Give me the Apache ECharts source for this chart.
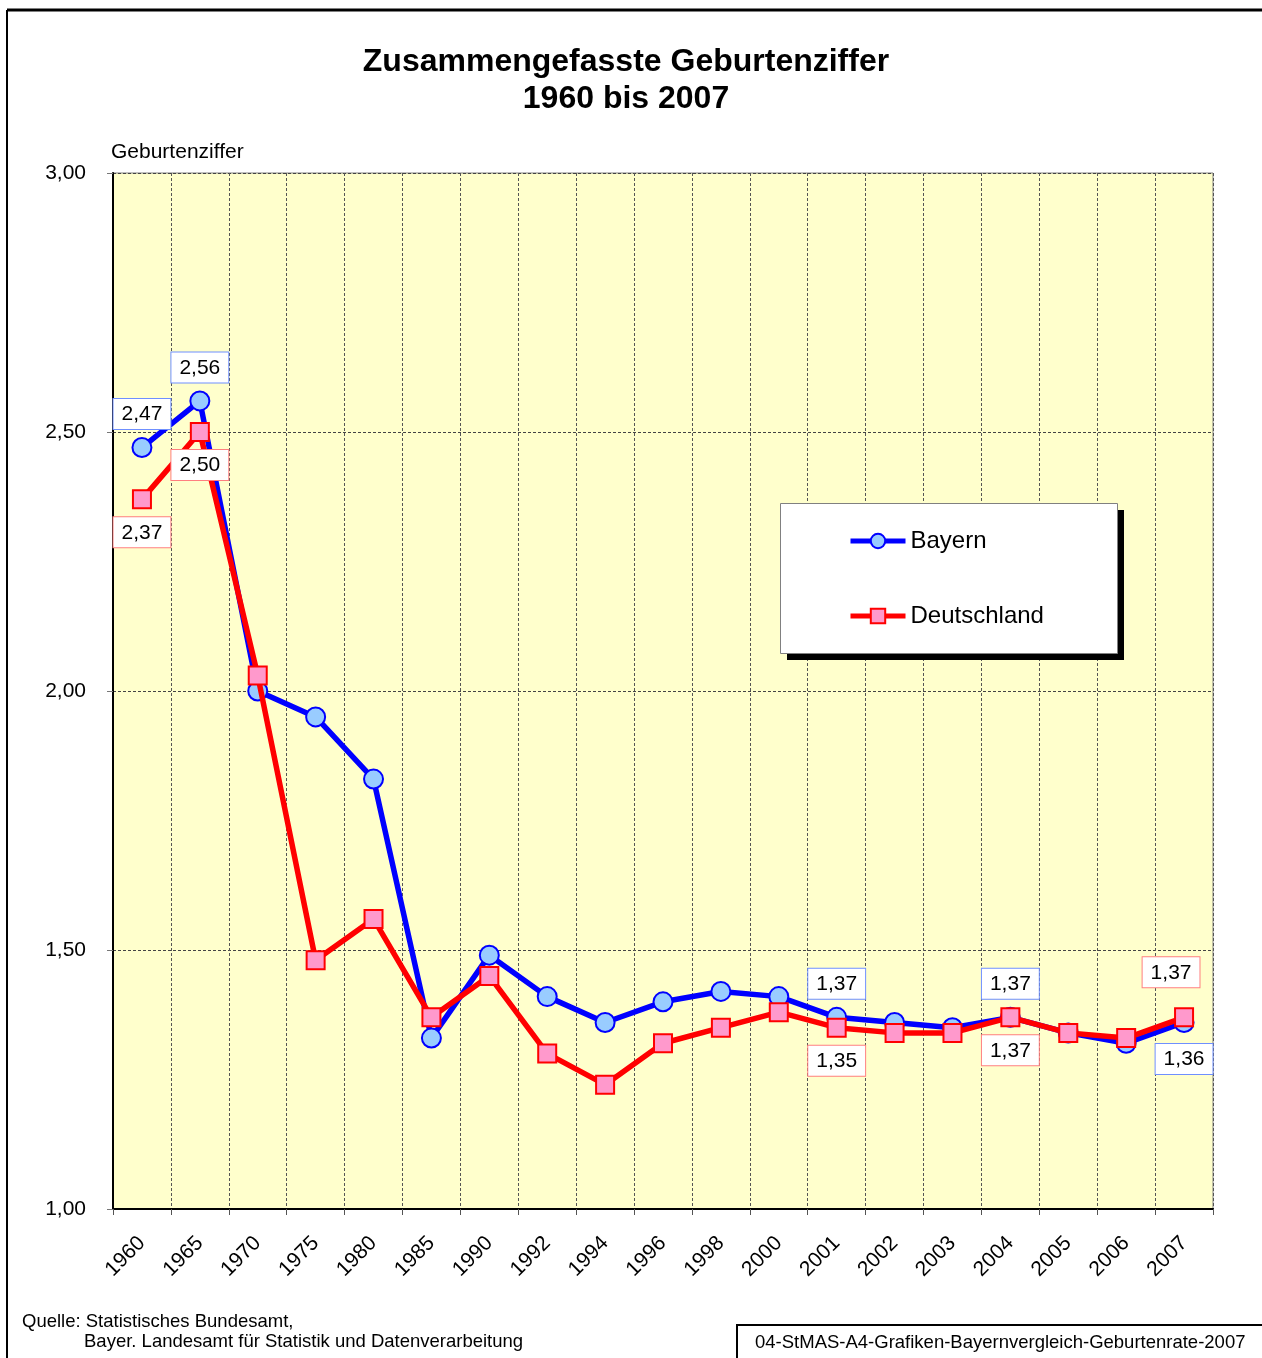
<!DOCTYPE html>
<html>
<head>
<meta charset="utf-8">
<script src="https://cdn.jsdelivr.net/npm/echarts@6/dist/echarts.min.js"></script>
<style>
    html, body {margin: 0; padding: 0; background: #fff;}
    #chart {width: 1262px; height: 1358px;}
</style>
</head>
<body>
<div id="chart"></div>
<script>
// Zusammengefasste Geburtenziffer 1960 bis 2007
const years = ['1960', '1965', '1970', '1975', '1980', '1985', '1990', '1992', '1994', '1996',
    '1998', '2000', '2001', '2002', '2003', '2004', '2005', '2006', '2007'];
const bayern = [2.47, 2.56, 2.00, 1.95, 1.83, 1.33, 1.49, 1.41, 1.36, 1.40,
    1.42, 1.41, 1.37, 1.36, 1.35, 1.37, 1.34, 1.32, 1.36];
const deutschland = [2.37, 2.50, 2.03, 1.48, 1.56, 1.37, 1.45, 1.30, 1.24, 1.32,
    1.35, 1.38, 1.35, 1.34, 1.34, 1.37, 1.34, 1.33, 1.37];
// which points carry a value label
const bayernLabelled = [0, 1, 12, 15, 18];
const deutschlandLabelled = [0, 1, 12, 15, 18];

const FONT = 'Liberation Sans, Arial, sans-serif';
const fmt = v => v.toFixed(2).replace('.', ',');

const boxLabel = (border, position, extra) => Object.assign({
    show: true,
    position: position,
    distance: 8,
    formatter: p => fmt(p.value),
    fontFamily: FONT,
    fontSize: 21,
    color: '#000',
    backgroundColor: '#fff',
    borderColor: border,
    borderWidth: 1,
    padding: [5, 8, 4, 8]
}, extra || {});

const bayernData = bayern.map((v, i) => {
    if (bayernLabelled.indexOf(i) < 0) return v;
    const below = i === years.length - 1;
    return {value: v, label: boxLabel('#6f8fff', below ? 'bottom' : 'top', below ? {distance: 11} : {})};
});
const deutschlandData = deutschland.map((v, i) => {
    if (deutschlandLabelled.indexOf(i) < 0) return v;
    const last = i === years.length - 1;
    return {value: v, label: boxLabel('#ff7f7f', last ? 'top' : 'bottom', last ? {distance: 20, offset: [-13, 0]} : {})};
});

const chart = echarts.init(document.getElementById('chart'));
chart.setOption({
    animation: false,
    backgroundColor: '#fff',
    textStyle: {fontFamily: FONT},
    grid: {
        left: 113, right: 49, top: 173, bottom: 149,
        show: true, backgroundColor: '#ffffcc', borderColor: '#808080', borderWidth: 1
    },
    legend: {
        orient: 'vertical',
        left: 778, top: 503,
        padding: [26, 70, 26, 70],
        itemGap: 51,
        itemWidth: 55, itemHeight: 18,
        z: 10,
        textStyle: {fontFamily: FONT, fontSize: 24, color: '#000'},
        data: [
            {name: 'Bayern', lineStyle: {width: 5}},
            {name: 'Deutschland', lineStyle: {width: 5}}
        ]
    },
    xAxis: {
        type: 'category',
        data: years,
        boundaryGap: true,
        axisLine: {lineStyle: {color: '#000', width: 2}},
        axisTick: {show: true, length: 6, lineStyle: {color: '#555'}},
        axisLabel: {rotate: 45, fontSize: 21, color: '#000', margin: 31, fontFamily: FONT},
        splitLine: {show: true, lineStyle: {color: '#555', type: [3, 2], width: 1}}
    },
    yAxis: {
        type: 'value',
        min: 1, max: 3, interval: 0.5,
        axisLine: {show: true, lineStyle: {color: '#000', width: 2}},
        axisTick: {show: true, length: 6, lineStyle: {color: '#777'}},
        axisLabel: {formatter: v => fmt(v), fontSize: 21, color: '#000', margin: 27, fontFamily: FONT},
        splitLine: {show: true, lineStyle: {color: '#444', type: [3, 2], width: 1}}
    },
    series: [{
        name: 'Bayern',
        type: 'line',
        data: bayernData,
        symbol: 'circle',
        symbolSize: 19,
        lineStyle: {color: '#0000ff', width: 5.5},
        itemStyle: {color: '#99ccff', borderColor: '#0000ff', borderWidth: 2},
        z: 2
    }, {
        name: 'Deutschland',
        type: 'line',
        data: deutschlandData,
        symbol: 'rect',
        symbolSize: 18,
        lineStyle: {color: '#ff0000', width: 5.5},
        itemStyle: {color: '#ff99cc', borderColor: '#ff0000', borderWidth: 2},
        z: 3
    }],
    graphic: [
        // outer frame
        {type: 'line', shape: {x1: 7, y1: 10, x2: 1262, y2: 10}, style: {stroke: '#000', lineWidth: 3}},
        {type: 'line', shape: {x1: 7, y1: 10, x2: 7, y2: 1358}, style: {stroke: '#000', lineWidth: 2}},
        // title
        {
            type: 'text', x: 626, y: 44,
            style: {
                text: 'Zusammengefasste Geburtenziffer\n1960 bis 2007',
                font: 'bold 32px ' + FONT, fill: '#000', align: 'center', lineHeight: 37
            }
        },
        {type: 'text', x: 111, y: 152, style: {text: 'Geburtenziffer', font: '21px ' + FONT, fill: '#000', verticalAlign: 'middle'}},
        // legend box with hard shadow
        {type: 'rect', z: 8, shape: {x: 787, y: 510, width: 337, height: 150}, style: {fill: '#000'}},
        {type: 'rect', z: 9, shape: {x: 780.5, y: 503.5, width: 337, height: 150}, style: {fill: '#fff', stroke: '#808080', lineWidth: 1}},
        // source
        {type: 'text', x: 22, y: 1322, style: {text: 'Quelle: Statistisches Bundesamt,', font: '18.5px ' + FONT, fill: '#000', verticalAlign: 'middle'}},
        {type: 'text', x: 84, y: 1342, style: {text: 'Bayer. Landesamt für Statistik und Datenverarbeitung', font: '18.5px ' + FONT, fill: '#000', verticalAlign: 'middle'}},
        {type: 'rect', shape: {x: 737, y: 1325, width: 530, height: 40}, style: {fill: '#fff', stroke: '#000', lineWidth: 2}},
        {type: 'text', x: 755, y: 1343, style: {text: '04-StMAS-A4-Grafiken-Bayernvergleich-Geburtenrate-2007', font: '18.5px ' + FONT, fill: '#000', verticalAlign: 'middle'}}
    ]
});
</script>
</body>
</html>
